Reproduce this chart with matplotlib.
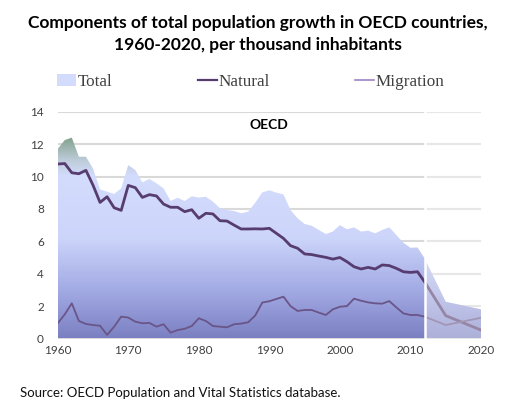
import numpy as np
import matplotlib
matplotlib.use("Agg")
import matplotlib.pyplot as plt
from matplotlib.colors import LinearSegmentedColormap
from matplotlib.lines import Line2D
from matplotlib.patches import Patch

# Data (per thousand inhabitants)
years = list(range(1960, 2013)) + [2015, 2020]

total = [11.7, 12.25, 12.4, 11.22, 11.22, 10.5, 9.2, 9.06, 8.92, 9.27,
         10.7, 10.4, 9.64, 9.85, 9.58, 9.27, 8.49, 8.69, 8.49, 8.78,
         8.7, 8.75, 8.45, 8.04, 7.93, 7.87, 7.73, 7.83, 8.38, 9.02,
         9.15, 9.0, 8.9, 7.93, 7.42, 7.07, 6.96, 6.7, 6.45, 6.6,
         7.0, 6.74, 6.86, 6.6, 6.66, 6.49, 6.7, 6.86, 6.39, 5.91,
         5.6, 5.62, 4.95, 2.27, 1.8]

natural = [10.77, 10.8, 10.23, 10.17, 10.38, 9.47, 8.4, 8.75, 8.07, 7.91,
           9.45, 9.31, 8.71, 8.88, 8.8, 8.3, 8.1, 8.1, 7.83, 7.95,
           7.42, 7.73, 7.69, 7.27, 7.25, 7.0, 6.76, 6.76, 6.77, 6.76,
           6.8, 6.49, 6.18, 5.73, 5.57, 5.22, 5.18, 5.09, 5.01, 4.9,
           5.0, 4.74, 4.43, 4.29, 4.39, 4.29, 4.54, 4.5, 4.33, 4.12,
           4.08, 4.12, 3.5, 1.41, 0.52]

migration = [0.94, 1.49, 2.17, 1.08, 0.9, 0.83, 0.79, 0.22, 0.73, 1.35,
             1.29, 1.04, 0.94, 0.96, 0.73, 0.88, 0.36, 0.52, 0.6, 0.77,
             1.25, 1.08, 0.77, 0.73, 0.69, 0.88, 0.92, 1.0, 1.42, 2.22,
             2.3, 2.44, 2.58, 2.0, 1.7, 1.76, 1.76, 1.6, 1.45, 1.8,
             1.96, 2.0, 2.46, 2.33, 2.23, 2.17, 2.15, 2.31, 1.92, 1.55,
             1.45, 1.45, 1.35, 0.83, 1.28]

last_observed = 2012

fig = plt.figure(figsize=(5.15, 4.12), dpi=100)
ax = fig.add_axes([57.7 / 515, 73.5 / 412, (481 - 57.7) / 515, (338.5 - 111.7) / 412])

# gradient filled area for the total
ytop = 12.5
grad = LinearSegmentedColormap.from_list(
    "tot",
    [(0.0, "#7b80c2"), (0.25, "#a5ade6"), (0.5, "#cdd6fa"),
     (0.8, "#d3dcfc"), (0.88, "#bccbd8"), (1.0, "#7e9e86")])
poly = ax.fill_between(years, 0, total, color="none", lw=0, zorder=1)
img = ax.imshow(np.linspace(0, 1, 256).reshape(-1, 1), cmap=grad, origin="lower",
                extent=[1960, 2020, 0, ytop], aspect="auto", zorder=1)
img.set_clip_path(poly.get_paths()[0], transform=ax.transData)

ax.plot(years, natural, color="#573c70", lw=2.0, zorder=3)
ax.plot(years, migration, color="#6a5588", lw=1.3, zorder=3)

# projection part is washed out
ax.axvspan(last_observed, 2020, color="white", alpha=0.38, lw=0, zorder=4)
ax.axvline(last_observed, color="white", lw=1.8, zorder=5)

ax.set_xlim(1960, 2020)
ax.set_ylim(0, 14)
ax.set_xticks(range(1960, 2021, 10))
ax.set_yticks(range(0, 15, 2))
ax.yaxis.grid(True, color="#d9d9d9", lw=1.5)
ax.set_axisbelow(True)
for s in ax.spines.values():
    s.set_visible(False)
ax.tick_params(length=0, labelsize=8.5, colors="#404040", pad=5)
for lab in ax.get_xticklabels() + ax.get_yticklabels():
    lab.set_family("Lato")
ax.tick_params(axis="y", pad=10)

ax.text(0.5, 0.94, "OECD", transform=ax.transAxes, ha="center", va="center",
        fontsize=10, fontweight="bold", family="Lato")

fig.text(0.5, 1 - 34 / 412, "Components of total population growth in OECD countries,\n"
         "1960-2020, per thousand inhabitants", ha="center", va="center",
         fontsize=12.5, fontweight="bold", family="Lato", linespacing=1.45)

handles = [Patch(facecolor="#d3dcfc", edgecolor="none"),
           Line2D([], [], color="#573c70", lw=1.6),
           Line2D([], [], color="#9c84c4", lw=1.2)]
fig.legend(handles, ["Total", "Natural", "Migration"], loc="center left",
           bbox_to_anchor=(42 / 515, 1 - 82 / 412), ncol=3, frameon=False,
           prop={"family": "Liberation Serif", "size": 12.3},
           handlelength=1.1, handletextpad=0.1, columnspacing=5.0,
           labelcolor="#404040")

fig.text(20 / 515, 1 - 393 / 412, "Source: OECD Population and Vital Statistics database.",
         ha="left", va="center", fontsize=9.5, family="Lato", color="#111111")

fig.savefig("out.png", dpi=100)
